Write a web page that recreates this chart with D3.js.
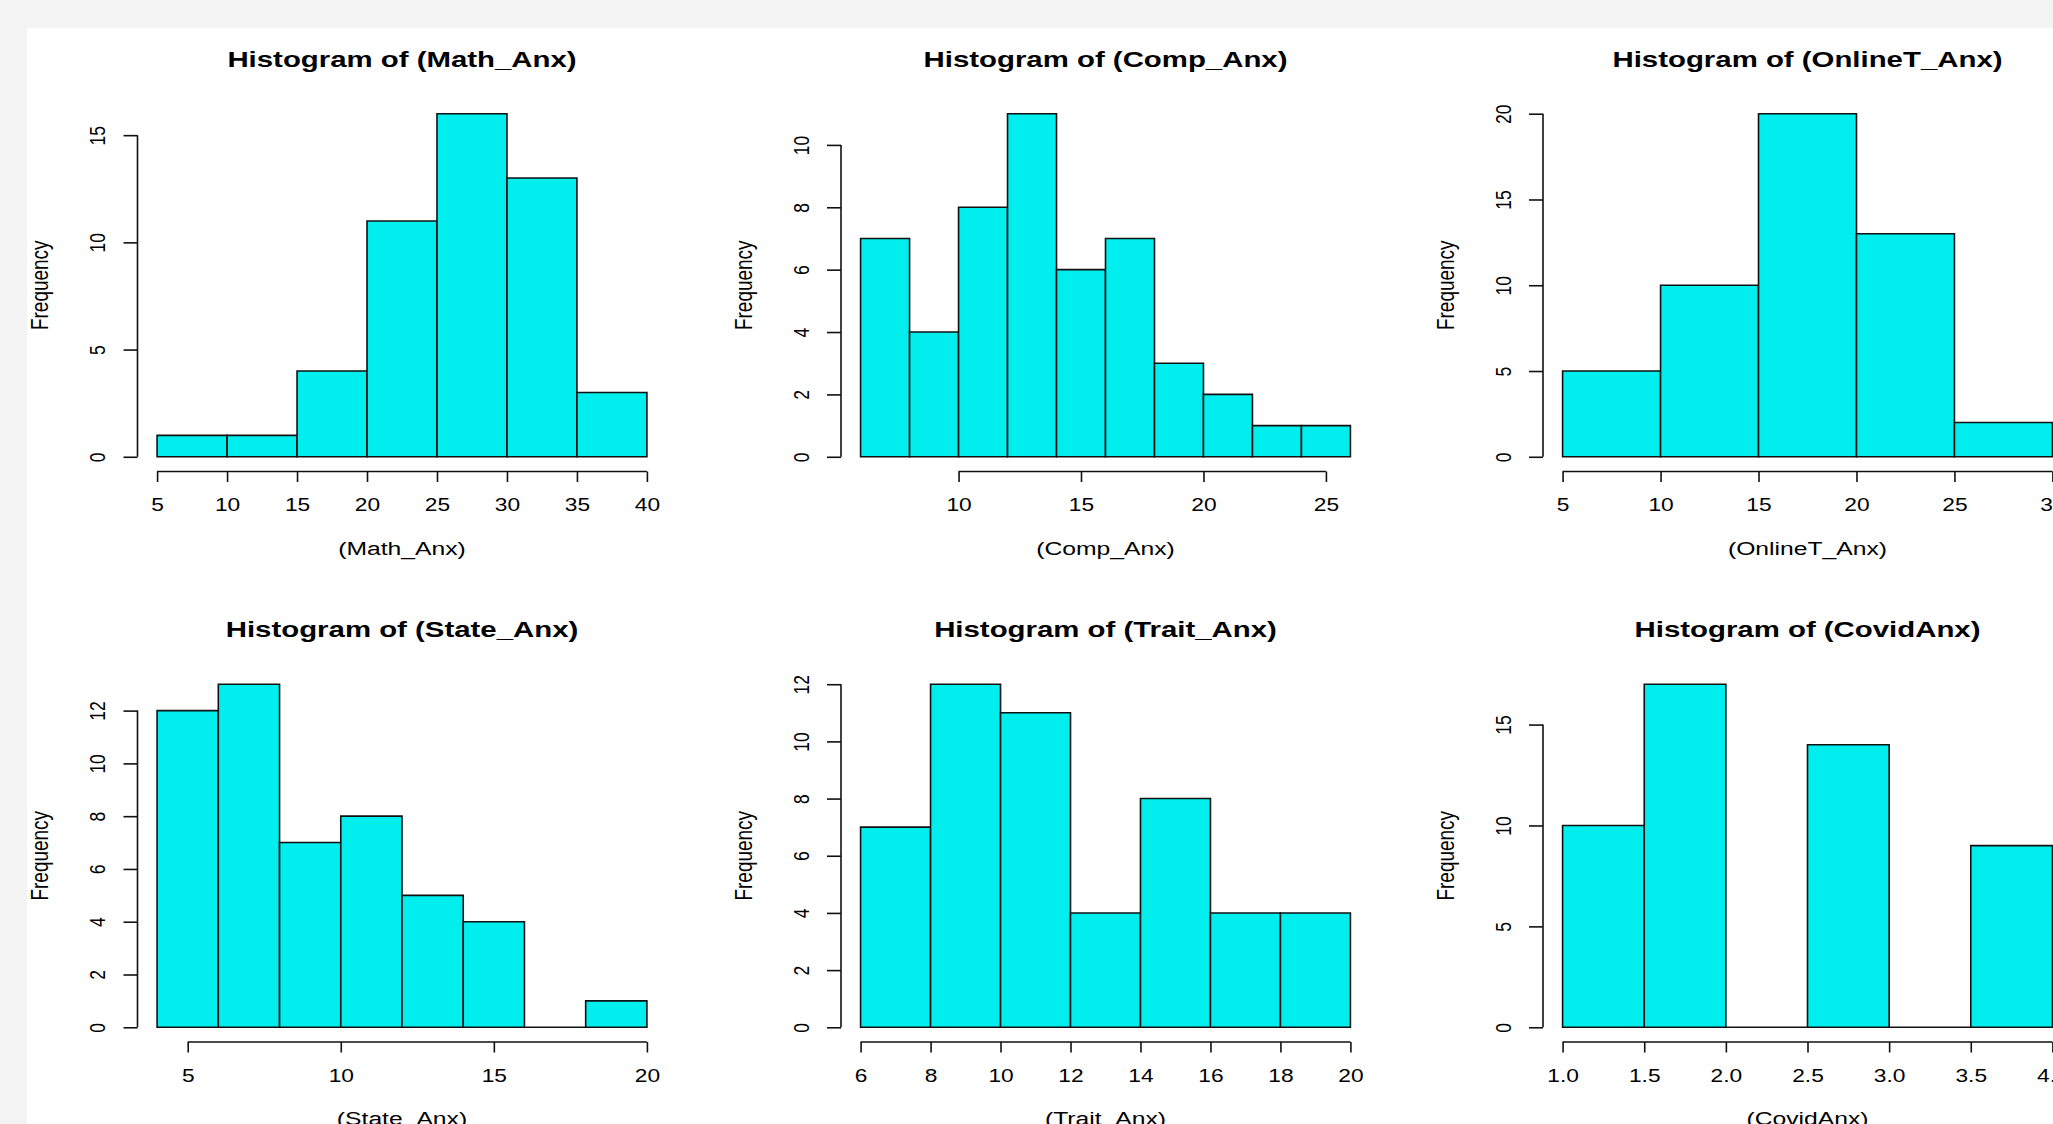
<!DOCTYPE html>
<html lang="en">
<head>
<meta charset="utf-8">
<title>Histograms</title>
<script src="https://d3js.org/d3.v7.min.js"></script>
<style>
  body { margin: 0; background: #f3f3f3; }
  svg { display: block; }
  text { font-family: "Liberation Sans", Arial, sans-serif; fill: #000; }
</style>
</head>
<body>
<script>
// bin edges and counts
var mathBreaks = [5, 10, 15, 20, 25, 30, 35, 40];
var mathCounts = [1, 1, 4, 11, 16, 13, 3];
var compBreaks = [6, 8, 10, 12, 14, 16, 18, 20, 22, 24, 26];
var compCounts = [7, 4, 8, 11, 6, 7, 3, 2, 1, 1];
var onlineBreaks = [5, 10, 15, 20, 25, 30];
var onlineCounts = [5, 10, 20, 13, 2];
var stateBreaks = [4, 6, 8, 10, 12, 14, 16, 18, 20];
var stateCounts = [12, 13, 7, 8, 5, 4, 0, 1];
var traitBreaks = [6, 8, 10, 12, 14, 16, 18, 20];
var traitCounts = [7, 12, 11, 4, 8, 4, 4];
var covidBreaks = [1.0, 1.5, 2.0, 2.5, 3.0, 3.5, 4.0];
var covidCounts = [10, 17, 0, 14, 0, 9];

// tick values
var mathXTicks = [5, 10, 15, 20, 25, 30, 35, 40];
var mathYTicks = [0, 5, 10, 15];
var compXTicks = [10, 15, 20, 25];
var compYTicks = [0, 2, 4, 6, 8, 10];
var onlineXTicks = [5, 10, 15, 20, 25, 30];
var onlineYTicks = [0, 5, 10, 15, 20];
var stateXTicks = [5, 10, 15, 20];
var stateYTicks = [0, 2, 4, 6, 8, 10, 12];
var traitXTicks = [6, 8, 10, 12, 14, 16, 18, 20];
var traitYTicks = [0, 2, 4, 6, 8, 10, 12];
var covidXTicks = [1.0, 1.5, 2.0, 2.5, 3.0, 3.5, 4.0];
var covidYTicks = [0, 5, 10, 15];

var varNames = ["(Math_Anx)", "(Comp_Anx)", "(OnlineT_Anx)", "(State_Anx)", "(Trait_Anx)", "(CovidAnx)"];

var panels = [
  {name: varNames[0], breaks: mathBreaks, counts: mathCounts, xt: mathXTicks, yt: mathYTicks, fmt: "d"},
  {name: varNames[1], breaks: compBreaks, counts: compCounts, xt: compXTicks, yt: compYTicks, fmt: "d"},
  {name: varNames[2], breaks: onlineBreaks, counts: onlineCounts, xt: onlineXTicks, yt: onlineYTicks, fmt: "d"},
  {name: varNames[3], breaks: stateBreaks, counts: stateCounts, xt: stateXTicks, yt: stateYTicks, fmt: "d"},
  {name: varNames[4], breaks: traitBreaks, counts: traitCounts, xt: traitXTicks, yt: traitYTicks, fmt: "d"},
  {name: varNames[5], breaks: covidBreaks, counts: covidCounts, xt: covidXTicks, yt: covidYTicks, fmt: ".1f"}
];

var width = 2053, height = 1124;
var colLeft = [137.5, 841, 1543];
var rowTop = [100, 670.5];
var plotW = 529, plotH = 370.5;
var sx = 1.3; // the source picture is stretched sideways

var svg = d3.select("body").append("svg")
  .attr("width", width)
  .attr("height", height);

svg.append("rect")
  .attr("x", 27).attr("y", 28)
  .attr("width", width - 27).attr("height", height - 28)
  .attr("fill", "#fff");

panels.forEach(function(p, i) {
  var left = colLeft[i % 3], top = rowTop[Math.floor(i / 3)];
  var bottom = top + plotH;
  var lo = p.breaks[0], hi = p.breaks[p.breaks.length - 1];
  var ext = (hi - lo) * 0.04;
  var ymax = d3.max(p.counts);

  var x = d3.scaleLinear().domain([lo - ext, hi + ext]).range([left, left + plotW]);
  var y = d3.scaleLinear().domain([-0.04 * ymax, ymax * 1.04]).range([bottom, top]);

  var g = svg.append("g");

  // bars (paths so empty bins still show as a line on the baseline)
  g.selectAll("path.bar")
    .data(p.counts)
    .enter()
    .append("path")
    .attr("class", "bar")
    .attr("d", function(d, j) {
      var x0 = x(p.breaks[j]), x1 = x(p.breaks[j + 1]);
      return "M" + x0 + "," + y(0) + "V" + y(d) + "H" + x1 + "V" + y(0) + "Z";
    })
    .attr("fill", "#00eeee")
    .attr("stroke", "#111")
    .attr("stroke-width", 1.6);

  // x axis
  var xa = g.append("g")
    .attr("transform", "translate(0," + (bottom + 1) + ")")
    .call(d3.axisBottom(x).tickValues(p.xt).tickSize(10.5).tickSizeOuter(0).tickFormat(d3.format(p.fmt)));
  xa.select(".domain").remove();
  xa.append("line")
    .attr("x1", x(p.xt[0])).attr("x2", x(p.xt[p.xt.length - 1]))
    .attr("stroke", "#111").attr("stroke-width", 1.6);
  xa.selectAll(".tick line").attr("stroke", "#111").attr("stroke-width", 1.6);
  xa.selectAll(".tick text")
    .attr("y", 40).attr("dy", null)
    .attr("transform", "scale(" + sx + ",1)")
    .style("font-size", "17.5px")
    .attr("fill", "#000");

  // y axis
  var ya = g.append("g")
    .attr("transform", "translate(" + left + ",0)")
    .call(d3.axisLeft(y).tickValues(p.yt).tickSize(14).tickSizeOuter(0));
  ya.select(".domain").remove();
  ya.append("line")
    .attr("y1", y(p.yt[0])).attr("y2", y(p.yt[p.yt.length - 1]))
    .attr("stroke", "#111").attr("stroke-width", 1.6);
  ya.selectAll(".tick line").attr("stroke", "#111").attr("stroke-width", 1.6);
  ya.selectAll(".tick text")
    .attr("x", 0).attr("y", 0).attr("dy", null)
    .attr("text-anchor", "middle")
    .attr("transform", "translate(-32.5,0) scale(" + sx + ",1) rotate(-90)")
    .style("font-size", "17.5px")
    .attr("fill", "#000");

  // titles
  g.append("text")
    .attr("transform", "translate(" + (left + plotW / 2) + "," + (top - 33.5) + ") scale(" + sx + ",1)")
    .attr("text-anchor", "middle")
    .style("font-size", "22.6px")
    .style("font-weight", "bold")
    .text("Histogram of " + p.name);

  g.append("text")
    .attr("transform", "translate(" + (left + plotW / 2) + "," + (bottom + 84) + ") scale(" + sx + ",1)")
    .attr("text-anchor", "middle")
    .style("font-size", "19px")
    .text(p.name);

  g.append("text")
    .attr("transform", "translate(" + (left - 89.5) + "," + (top + plotH / 2) + ") scale(" + sx + ",1) rotate(-90)")
    .attr("text-anchor", "middle")
    .style("font-size", "19px")
    .text("Frequency");
});
</script>
</body>
</html>
